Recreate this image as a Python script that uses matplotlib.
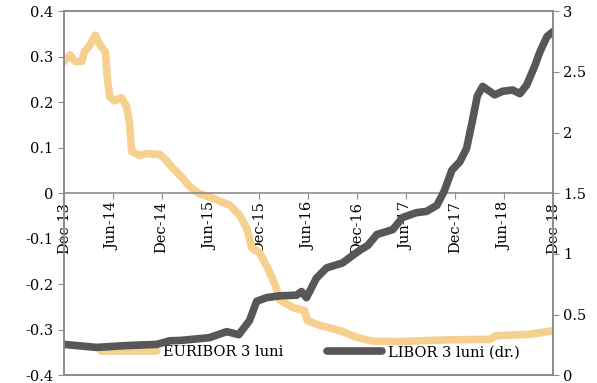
import matplotlib
matplotlib.use("Agg")
import matplotlib.pyplot as plt
import matplotlib.dates as mdates
from matplotlib.ticker import FuncFormatter
import pandas as pd

# EURIBOR 3M (left axis)
eur_dates = ["2013-12-01", "2013-12-23", "2014-01-12", "2014-02-07", "2014-02-15",
             "2014-03-07", "2014-03-28", "2014-04-13", "2014-05-05", "2014-05-13",
             "2014-05-21", "2014-06-08", "2014-07-04", "2014-07-22", "2014-08-03",
             "2014-08-11", "2014-09-10", "2014-10-06", "2014-11-25", "2014-12-19",
             "2015-01-12", "2015-02-18", "2015-03-15", "2015-04-18", "2015-06-10",
             "2015-08-12", "2015-09-18", "2015-10-15", "2015-11-03", "2015-12-02",
             "2016-01-01", "2016-01-28", "2016-02-15", "2016-04-04", "2016-05-18",
             "2016-05-28", "2016-07-13", "2016-09-28", "2016-12-01", "2017-01-28",
             "2017-04-28", "2017-11-01", "2018-04-10", "2018-05-04", "2018-09-06",
             "2018-12-01"]
eur_vals = [0.289, 0.304, 0.289, 0.290, 0.310,
            0.324, 0.347, 0.328, 0.310, 0.250,
            0.212, 0.203, 0.210, 0.192, 0.157,
            0.092, 0.083, 0.087, 0.085, 0.072,
            0.055, 0.033, 0.015, 0.000, -0.011,
            -0.026, -0.048, -0.077, -0.120, -0.131,
            -0.164, -0.200, -0.234, -0.251, -0.258,
            -0.280, -0.290, -0.302, -0.317, -0.325,
            -0.326, -0.322, -0.321, -0.313, -0.310,
            -0.302]

# USD LIBOR 3M (right axis)
lib_dates = ["2013-12-01", "2014-04-02", "2014-07-22", "2014-11-13", "2015-01-01",
             "2015-02-07", "2015-05-28", "2015-08-01", "2015-09-15", "2015-10-25",
             "2015-11-21", "2015-12-28", "2016-02-15", "2016-04-18", "2016-05-06",
             "2016-05-25", "2016-07-01", "2016-08-08", "2016-10-06", "2016-11-15",
             "2016-12-10", "2017-01-09", "2017-02-12", "2017-04-12", "2017-05-19",
             "2017-07-10", "2017-08-16", "2017-09-24", "2017-10-22", "2017-11-19",
             "2017-12-19", "2018-01-13", "2018-02-03", "2018-02-22", "2018-03-14",
             "2018-04-28", "2018-05-28", "2018-07-04", "2018-07-31", "2018-08-25",
             "2018-09-25", "2018-10-13", "2018-11-09", "2018-12-01"]
lib_vals = [0.255, 0.230, 0.245, 0.255, 0.285,
            0.287, 0.310, 0.360, 0.335, 0.450,
            0.610, 0.640, 0.655, 0.660, 0.690,
            0.640, 0.800, 0.885, 0.925, 0.990,
            1.030, 1.070, 1.160, 1.200, 1.300,
            1.340, 1.350, 1.400, 1.520, 1.690,
            1.760, 1.870, 2.090, 2.300, 2.380,
            2.310, 2.340, 2.350, 2.320, 2.390,
            2.550, 2.660, 2.790, 2.830]

tick_dates = ["2013-12-01", "2014-06-01", "2014-12-01", "2015-06-01", "2015-12-01",
              "2016-06-01", "2016-12-01", "2017-06-01", "2017-12-01", "2018-06-01",
              "2018-12-01"]

eur_x = pd.to_datetime(eur_dates)
lib_x = pd.to_datetime(lib_dates)
ticks = pd.to_datetime(tick_dates)

plt.rcParams['font.family'] = ['DejaVu Serif']
grey = '#8c8c8c'
fs = 10.5

fig = plt.figure(figsize=(5.97, 3.83), dpi=100)
ax = fig.add_axes([0.107, 0.02, 0.819, 0.951])
ax2 = ax.twinx()

l1, = ax.plot(eur_x, eur_vals, color='#f5d08e', lw=5.5, solid_capstyle='round',
              solid_joinstyle='round', label='EURIBOR 3 luni', zorder=2)
l2, = ax2.plot(lib_x, lib_vals, color='#575757', lw=5.5, solid_capstyle='round',
               solid_joinstyle='round', label='LIBOR 3 luni (dr.)', zorder=2)

ax.set_ylim(-0.4, 0.4)
ax.set_yticks([-0.4, -0.3, -0.2, -0.1, 0, 0.1, 0.2, 0.3, 0.4])
ax.yaxis.set_major_formatter(FuncFormatter(lambda v, p: '%g' % round(v, 2)))
ax2.set_ylim(0, 3)
ax2.set_yticks([0, 0.5, 1, 1.5, 2, 2.5, 3])
ax2.yaxis.set_major_formatter(FuncFormatter(lambda v, p: '%g' % v))

ax.set_xlim(ticks[0], ticks[-1])
ax.set_xticks(ticks)
ax.xaxis.set_major_formatter(mdates.DateFormatter('%b-%y'))
ax.spines['bottom'].set_position(('data', 0))
ax.axhline(-0.4, color=grey, lw=1.5, clip_on=False, zorder=1)

for a in (ax, ax2):
    for s in a.spines.values():
        s.set_color(grey)
        s.set_linewidth(1.2)
ax2.spines['bottom'].set_visible(False)

ax.tick_params(axis='x', rotation=90, labelsize=fs, color=grey, length=4, pad=2)
ax.tick_params(axis='y', labelsize=fs, color=grey, length=4)
ax2.tick_params(axis='y', labelsize=fs, color=grey, length=4)

ax.legend(handles=[l1, l2], loc='center', bbox_to_anchor=(0.52, 0.08),
          bbox_transform=fig.transFigure, ncol=2, frameon=False, fontsize=fs,
          handlelength=3.8, columnspacing=3.0, handletextpad=0.4)

fig.savefig('out.png', dpi=100)
